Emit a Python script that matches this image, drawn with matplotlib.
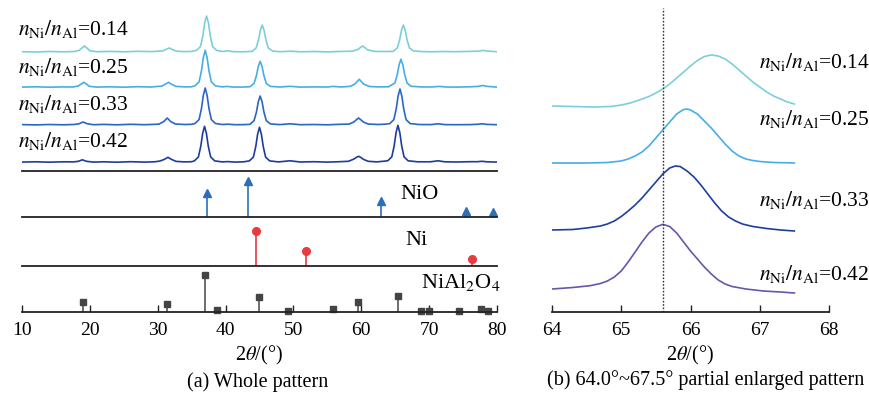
import numpy as np
import matplotlib.pyplot as plt

plt.rcParams['font.family'] = ['Liberation Serif', 'DejaVu Serif']
plt.rcParams['mathtext.fontset'] = 'stix'

# ratio labels
ratios = ['0.14', '0.25', '0.33', '0.42']

# (a) whole patterns, (2theta, intensity above own baseline)
pat_014 = [(10,0.3),(12,0.0),(14,0.5),(16,0.2),(17.6,0.4),(18.4,1.5),(18.8,3.8),(19.2,6),(19.6,3.8),(20.0,1.2),(21,0.3),(23,0.6),(25,0.2),(27,0.7),(29,0.4),(30.7,1.0),(31.3,2.8),(31.7,4),(32.1,2.6),(32.8,0.8),(34,0.4),(35.0,0.6),(35.7,1.6),(36.3,5.4),(36.65,16),(36.92,29),(37.2,36),(37.48,29),(37.75,16),(38.1,5.4),(38.7,1.5),(39.6,0.5),(40.3,1.3),(41.0,0.4),(42.5,0.2),(43.9,0.6),(44.5,4),(44.85,12),(45.12,21.6),(45.4,27),(45.68,21.6),(45.95,12),(46.3,4),(46.9,1),(48,0.3),(49.6,0.8),(51,0.2),(53,0.5),(55,0.1),(57,0.6),(58.7,0.8),(59.5,2.5),(59.9,4.6),(60.2,6),(60.5,4.6),(60.9,2.2),(62,0.6),(63.5,0.5),(64.7,0.6),(65.3,4),(65.65,12),(65.92,21.6),(66.2,27),(66.48,21.6),(66.75,12),(67.1,4),(67.7,1),(69,0.4),(70.5,0.2),(72,0.5),(74,0.3),(76,0.6),(77.2,0.8),(77.9,1.6),(78.6,0.9),(80,0.3)]
pat_025 = [(10,0.2),(12,0.5),(14,0.1),(16,0.4),(17.5,0.3),(18.3,1.3),(18.7,3.2),(19.1,5),(19.5,3.2),(19.9,1.0),(21,0.2),(23,0.5),(25,0.1),(27,0.6),(29,0.3),(30.6,1.2),(31.2,3.4),(31.6,5),(32.0,3.2),(32.7,0.9),(34,0.4),(35.0,0.5),(35.5,1.5),(36.1,5.5),(36.45,16.6),(36.72,29.6),(37.0,37),(37.28,29.6),(37.55,16.6),(37.9,5.5),(38.5,1.5),(39.5,0.4),(40.2,0.9),(41.0,0.3),(42.5,0.2),(43.6,0.6),(44.2,3.9),(44.55,11.7),(44.82,20.8),(45.1,26),(45.38,20.8),(45.65,11.7),(46.0,3.9),(46.6,0.9),(48,0.3),(49.5,1.0),(51,0.2),(53,0.4),(55,0.3),(55.9,0.9),(57,0.3),(58.4,1.0),(59.1,3.5),(59.45,6.2),(59.7,8),(59.95,6.2),(60.3,3.4),(61.2,0.8),(62.5,0.4),(64.0,0.5),(64.95,4.2),(65.3,12.6),(65.57,22.4),(65.85,28),(66.13,22.4),(66.4,12.6),(66.75,4.2),(67.35,1.0),(69,0.3),(70.5,0.4),(71.5,0.9),(72.5,0.3),(74,0.2),(76,0.5),(77.2,0.9),(77.9,1.8),(78.6,0.9),(80,0.2)]
pat_033 = [(10,0.4),(12,0.1),(14,0.5),(16,0.2),(17.6,0.5),(18.4,1.2),(19.0,3),(19.6,1.3),(20.5,0.3),(22,0.6),(24,0.2),(26,0.7),(28,0.3),(29.3,0.6),(30.2,0.9),(30.9,3.5),(31.4,7),(31.9,3.5),(32.6,1.0),(34,0.5),(35.0,0.7),(35.5,1.5),(36.1,5.5),(36.45,16.6),(36.72,29.6),(37.0,37),(37.28,29.6),(37.55,16.6),(37.9,5.5),(38.5,1.5),(39.5,0.5),(40.3,0.8),(41.5,0.3),(42.8,0.4),(43.6,0.7),(44.2,4.4),(44.55,13),(44.82,23.2),(45.1,29),(45.38,23.2),(45.65,13),(46.0,4.4),(46.6,1.1),(48,0.4),(49.5,1.2),(51,0.3),(53,0.5),(55,0.2),(56.5,0.6),(58.2,0.9),(58.9,3),(59.3,5.4),(59.6,7),(59.9,5.4),(60.3,3),(61.0,1.0),(62.5,0.5),(63.5,0.8),(64.2,1.4),(64.8,5.4),(65.15,16.2),(65.42,28.8),(65.7,36),(65.98,28.8),(66.25,16.2),(66.6,5.4),(67.2,1.4),(68.5,0.5),(70.3,0.4),(71.3,1.2),(72.3,0.4),(74,0.3),(76,0.4),(77.1,0.7),(77.8,1.2),(78.5,0.6),(80,0.3)]
pat_042 = [(10,0.2),(12,0.5),(14,0.1),(16,0.5),(17.6,0.4),(18.3,1.0),(18.9,2.5),(19.5,1.0),(20.5,0.2),(22,0.5),(24,0.1),(26,0.6),(28,0.2),(29.5,0.5),(30.3,1.2),(31.0,3),(31.5,5),(32.0,3),(32.7,0.9),(34,0.4),(35.0,0.6),(35.4,1.4),(36.0,5.4),(36.35,16.2),(36.62,28.8),(36.9,36),(37.18,28.8),(37.45,16.2),(37.8,5.4),(38.4,1.4),(39.5,0.4),(40.3,0.7),(41.5,0.2),(42.7,0.5),(43.5,1.4),(44.1,5.2),(44.45,15.8),(44.72,28),(45.0,35),(45.28,28),(45.55,15.8),(45.9,5.2),(46.5,1.4),(47.8,0.4),(49.5,1.5),(51,0.3),(53,0.6),(55,0.2),(56.5,0.5),(58.1,1.0),(58.9,3.2),(59.3,5),(59.6,6),(59.9,5),(60.3,3),(61.0,1.0),(62.3,0.4),(63.9,1.5),(64.5,5.5),(64.85,16.6),(65.12,29.6),(65.4,37),(65.68,29.6),(65.95,16.6),(66.3,5.5),(66.9,1.5),(68.3,0.5),(70.2,0.5),(71.3,1.5),(72.3,0.5),(74,0.3),(76,0.6),(77.1,0.6),(77.8,1.0),(78.5,0.5),(80,0.2)]
patterns = [pat_014, pat_025, pat_033, pat_042]
pat_offsets = [119, 83.7, 46, 8.7]
pat_colors = ['#7ccfd9', '#46aee6', '#2b66c2', '#1c3d9c']

# reference cards
nio_pos = [37.25, 43.28, 62.88, 75.4, 79.4]
nio_int = [68, 100, 45, 16, 13]
ni_pos = [44.5, 51.85, 76.37]
ni_int = [100, 42, 21]
spinel_pos = [19.0, 31.4, 37.0, 38.7, 44.9, 49.2, 55.8, 59.5, 65.4, 68.8, 70.0, 74.4, 77.6, 78.6]
spinel_int = [27, 22, 100, 6, 41, 4, 8, 27, 43, 4, 3, 4, 8, 3]

# (b) 64.0-67.5 enlarged
zoom_014 = [(64.0,0),(64.3,-0.5),(64.6,-1),(64.85,-0.5),(65.0,1),(65.1,2.5),(65.2,4.5),(65.3,7),(65.4,9.5),(65.5,13),(65.6,17),(65.7,22),(65.8,28),(65.9,34),(66.0,40),(66.1,45.5),(66.2,49.5),(66.3,51),(66.4,50),(66.5,47),(66.6,42),(66.7,36),(66.8,30),(66.9,24),(67.0,19),(67.1,14),(67.2,10),(67.3,7),(67.4,4),(67.5,2)]
zoom_025 = [(64.0,0),(64.5,0),(64.8,0.5),(65.0,2),(65.1,4),(65.2,7),(65.3,11),(65.4,17),(65.5,25),(65.6,33),(65.7,41),(65.8,49),(65.9,53.5),(65.95,54),(66.0,53),(66.1,49),(66.2,42),(66.3,35),(66.4,27),(66.5,19),(66.6,12),(66.7,7),(66.8,4),(66.9,2.5),(67.0,1.5),(67.2,0.5),(67.5,0)]
zoom_033 = [(64.0,0),(64.3,0.5),(64.5,2),(64.7,4),(64.8,6),(64.9,9),(65.0,13.5),(65.1,19),(65.2,25),(65.3,32),(65.4,40),(65.5,48),(65.6,56),(65.7,62),(65.78,64),(65.85,63.5),(65.95,59),(66.05,53),(66.15,45),(66.25,36),(66.35,27),(66.45,19),(66.55,13),(66.65,9),(66.75,6),(66.9,3.5),(67.1,1.5),(67.3,0),(67.5,-1)]
zoom_042 = [(64.0,0),(64.3,1.5),(64.55,3.3),(64.7,5.5),(64.8,8),(64.9,12),(65.0,18),(65.1,27),(65.2,37),(65.3,47),(65.4,56),(65.5,62),(65.6,64.7),(65.7,62.5),(65.8,56),(65.9,47),(66.0,38),(66.1,30),(66.2,22),(66.3,15),(66.4,9),(66.5,5),(66.6,2.5),(66.8,0),(67.05,-2),(67.3,-3),(67.5,-4)]
zooms = [zoom_014, zoom_025, zoom_033, zoom_042]
zoom_offsets = [206, 149, 82, 23]
zoom_colors = ['#7ccfd9', '#46aee6', '#1e3f9e', '#6a55a8']
ref_line = 65.6

W, H = 869, 396
fig = plt.figure(figsize=(W / 100, H / 100), dpi=100)

def box(l, t, r, b):
    return [l / W, 1 - b / H, (r - l) / W, (b - t) / H]

ax_pat = fig.add_axes(box(22, 4, 497, 171))
ax_nio = fig.add_axes(box(22, 171, 497, 217))
ax_ni = fig.add_axes(box(22, 217, 497, 266))
ax_sp = fig.add_axes(box(22, 266, 497, 312))
ax_b = fig.add_axes(box(552, 8, 829, 312))

for ax in [ax_pat, ax_nio, ax_ni, ax_sp, ax_b]:
    for s in ['top', 'left', 'right']:
        ax.spines[s].set_visible(False)
    ax.spines['bottom'].set_linewidth(1.3)
    ax.spines['bottom'].set_color('#222222')
    ax.set_yticks([])
    ax.patch.set_alpha(0)

for ax in [ax_pat, ax_nio, ax_ni, ax_sp]:
    ax.set_xlim(10, 80)
for ax in [ax_pat, ax_nio, ax_ni]:
    ax.tick_params(bottom=False, labelbottom=False)

# stacked patterns
for pat, off, c in zip(patterns, pat_offsets, pat_colors):
    x = np.array([p[0] for p in pat])
    y = np.array([p[1] for p in pat])
    ax_pat.plot(x, y + off, color=c, lw=1.2)
ax_pat.set_ylim(0, 167)

# reference sticks
ax_nio.vlines(nio_pos, 0, nio_int, color='#2a6fbd', lw=1.2)
ax_nio.plot(nio_pos, nio_int, '^', color='#2a6fbd', ms=6, clip_on=False)
ax_nio.set_ylim(0, 128)

ax_ni.vlines(ni_pos, 0, ni_int, color='#e83a3f', lw=1.2)
ax_ni.plot(ni_pos, ni_int, 'o', color='#e83a3f', ms=5.5, clip_on=False)
ax_ni.set_ylim(0, 140)

ax_sp.vlines(spinel_pos, 0, spinel_int, color='#555555', lw=1.2)
ax_sp.plot(spinel_pos, spinel_int, 's', color='#444444', ms=4.5, clip_on=False)
ax_sp.set_ylim(0, 126)
ax_sp.set_xticks(range(10, 81, 10))
ax_sp.tick_params(direction='in', length=5, width=1, labelsize=14, pad=7, color='#222222')

# enlarged
for z, off, c in zip(zooms, zoom_offsets, zoom_colors):
    x = np.array([p[0] for p in z])
    y = np.array([p[1] for p in z])
    ax_b.plot(x, y + off, color=c, lw=1.2)
ax_b.axvline(ref_line, color='#333333', ls=(0, (1.2, 1.2)), lw=1.0)
ax_b.set_xlim(64, 68)
ax_b.set_ylim(0, 304)
ax_b.set_xticks(range(64, 69))
ax_b.tick_params(direction='in', length=5, width=1, labelsize=14, pad=7, color='#222222')

def fx(px):
    return px / W

def fy(py):
    return 1 - py / H

lab_fs = 15.5
for r, yb in zip(ratios, [35, 72.7, 110, 146.7]):
    fig.text(fx(18), fy(yb), r'$n_{\rm Ni}/n_{\rm Al}$=' + r, fontsize=lab_fs, va='baseline', ha='left')
for r, yb in zip(ratios, [68.3, 125, 206, 280]):
    fig.text(fx(759), fy(yb), r'$n_{\rm Ni}/n_{\rm Al}$=' + r, fontsize=lab_fs, va='baseline', ha='left')

fig.text(fx(400), fy(199), 'NiO', fontsize=16, va='baseline', ha='left')
fig.text(fx(405), fy(245), 'Ni', fontsize=16, va='baseline', ha='left')
fig.text(fx(421), fy(288), r'NiAl$_2$O$_4$', fontsize=16, va='baseline', ha='left')

fig.text(fx(259), fy(355), r'2$\theta$/(°)', fontsize=14.5, ha='center', va='center')
fig.text(fx(690), fy(355), r'2$\theta$/(°)', fontsize=14.5, ha='center', va='center')
fig.text(fx(258), fy(382), '(a) Whole pattern', fontsize=14.5, ha='center', va='center')
fig.text(fx(706), fy(380), '(b) 64.0°~67.5° partial enlarged pattern', fontsize=14.5, ha='center', va='center')

fig.savefig('out.png', dpi=100)
